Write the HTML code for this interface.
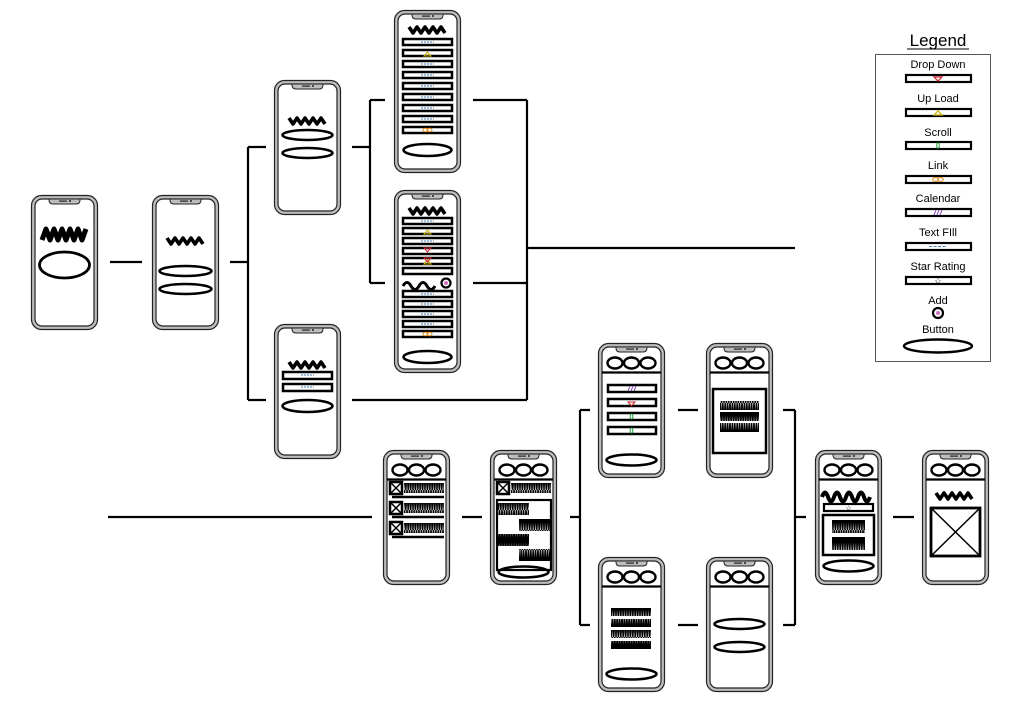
<!DOCTYPE html>
<html><head><meta charset="utf-8"><style>
html,body{margin:0;padding:0;background:#fff;}
svg{display:block;}
text{font-family:"Liberation Sans",sans-serif;}
</style></head><body>
<svg width="1024" height="724" viewBox="0 0 1024 724" xmlns="http://www.w3.org/2000/svg">
<defs>
<pattern id="zz" width="2.4" height="20" patternUnits="userSpaceOnUse">
<path d="M0 0 L1.2 20 L2.4 0" fill="none" stroke="#000" stroke-width="1.5"/>
</pattern>
<symbol id="f135" viewBox="0 0 67 135" width="67" height="135" overflow="visible">
<rect x="0.5" y="0.5" width="66" height="134" rx="10" fill="#bdbdbd" stroke="#222" stroke-width="1.2"/>
<rect x="4" y="4" width="59" height="127" rx="7" fill="#fff" stroke="#222" stroke-width="1.2"/>
<path d="M18 4 h31 v1 q0 4 -4 4 h-23 q-4 0 -4 -4z" fill="#bdbdbd" stroke="#222"/>
<rect x="28" y="5.5" width="8" height="1.2" fill="#222"/><circle cx="39" cy="6" r="1" fill="#222"/>
</symbol>
<symbol id="f163" viewBox="0 0 67 163" width="67" height="163" overflow="visible">
<rect x="0.5" y="0.5" width="66" height="162" rx="10" fill="#bdbdbd" stroke="#222" stroke-width="1.2"/>
<rect x="4" y="4" width="59" height="155" rx="7" fill="#fff" stroke="#222" stroke-width="1.2"/>
<path d="M18 4 h31 v1 q0 4 -4 4 h-23 q-4 0 -4 -4z" fill="#bdbdbd" stroke="#222"/>
<rect x="28" y="5.5" width="8" height="1.2" fill="#222"/><circle cx="39" cy="6" r="1" fill="#222"/>
</symbol>
<symbol id="f183" viewBox="0 0 67 183" width="67" height="183" overflow="visible">
<rect x="0.5" y="0.5" width="66" height="182" rx="10" fill="#bdbdbd" stroke="#222" stroke-width="1.2"/>
<rect x="4" y="4" width="59" height="175" rx="7" fill="#fff" stroke="#222" stroke-width="1.2"/>
<path d="M18 4 h31 v1 q0 4 -4 4 h-23 q-4 0 -4 -4z" fill="#bdbdbd" stroke="#222"/>
<rect x="28" y="5.5" width="8" height="1.2" fill="#222"/><circle cx="39" cy="6" r="1" fill="#222"/>
</symbol>
<g id="hdr">
<ellipse cx="17" cy="20" rx="7.5" ry="5.5" fill="none" stroke="#000" stroke-width="2.4"/>
<ellipse cx="33.5" cy="20" rx="7.5" ry="5.5" fill="none" stroke="#000" stroke-width="2.4"/>
<ellipse cx="50" cy="20" rx="7.5" ry="5.5" fill="none" stroke="#000" stroke-width="2.4"/>
<line x1="4" y1="29.5" x2="63" y2="29.5" stroke="#000" stroke-width="2.2"/>
</g>
<g id="wv"><path d="M0 -3 L4 3 L8 -3 L12 3 L16 -3 L20 3 L24 -3 L28 3 L32 -3 L36 3" fill="none" stroke="#000" stroke-width="3.6" stroke-linejoin="round"/></g>
<g id="xb"><rect x="0" y="0" width="12" height="12" fill="#fff" stroke="#000" stroke-width="2.5"/><path d="M1 1 L11 11 M11 1 L1 11" stroke="#000" stroke-width="1.5"/></g>
</defs>

<g stroke="#000" stroke-width="2.2" fill="none">
<path d="M110 262 H142"/>
<path d="M230 262 H248 M248 147 V400 M248 147 H266 M248 400 H266"/>
<path d="M352 147 H370 M370 100 V283 M370 100 H385 M370 283 H385"/>
<path d="M473 100 H527 M473 283 H527 M352 400 H527 M527 100 V400 M527 248 H795"/>
<path d="M108 517 H372 M462 517 H482 M570 517 H580 M580 410 V625 M580 410 H590 M580 625 H590"/>
<path d="M678 410 H698 M678 625 H698 M783 410 H795 M783 625 H795 M795 410 V625 M795 517 H806 M893 517 H914"/>
</g>

<!-- P1 -->
<g transform="translate(31,195)"><use href="#f135"/>
<path d="M11 45 L15 34 L19 45 L23 34 L27 45 L31 34 L35 45 L39 34 L43 45 L47 34 L51 45 L55 34" fill="none" stroke="#000" stroke-width="5" stroke-linejoin="round"/>
<ellipse cx="33.5" cy="70" rx="25" ry="13" fill="none" stroke="#000" stroke-width="2.8"/></g>
<!-- P2 -->
<g transform="translate(152,195)"><use href="#f135"/>
<use href="#wv" transform="translate(15,46)"/>
<ellipse cx="33.5" cy="76" rx="26" ry="5" fill="none" stroke="#000" stroke-width="2.5"/>
<ellipse cx="33.5" cy="94" rx="26" ry="5" fill="none" stroke="#000" stroke-width="2.5"/></g>
<!-- P3 -->
<g transform="translate(274,80)"><use href="#f135"/>
<use href="#wv" transform="translate(15,41)"/>
<ellipse cx="33.5" cy="55" rx="25" ry="5" fill="none" stroke="#000" stroke-width="2.5"/>
<ellipse cx="33.5" cy="73" rx="25" ry="5" fill="none" stroke="#000" stroke-width="2.5"/></g>
<!-- P4 -->
<g transform="translate(394,10)"><use href="#f163"/>
<use href="#wv" transform="translate(15,20)"/>
<g fill="none" stroke="#000" stroke-width="2.5">
<rect x="9" y="29" width="49" height="6"/><rect x="9" y="40" width="49" height="6"/>
<rect x="9" y="51" width="49" height="6"/><rect x="9" y="62" width="49" height="6"/>
<rect x="9" y="73" width="49" height="6"/><rect x="9" y="84" width="49" height="6"/>
<rect x="9" y="95" width="49" height="6"/><rect x="9" y="106" width="49" height="6"/>
<rect x="9" y="117" width="49" height="6"/>
<ellipse cx="33.5" cy="140" rx="24" ry="6"/></g>
<g stroke="#4a7cc0" stroke-width="1" stroke-dasharray="2 1"><path d="M27 32 h13 M27 54 h13 M27 65 h13 M27 76 h13 M27 87 h13 M27 98 h13 M27 109 h13"/></g>
<path d="M30 46 l3.5 -4 l3.5 4z" fill="none" stroke="#c8b400"/>
<ellipse cx="31.5" cy="120" rx="2.5" ry="1.8" fill="none" stroke="#e08a1e"/><ellipse cx="35.5" cy="120" rx="2.5" ry="1.8" fill="none" stroke="#e08a1e"/>
</g>
<!-- P5 -->
<g transform="translate(394,190)"><use href="#f183"/>
<use href="#wv" transform="translate(15,21)"/>
<g fill="none" stroke="#000" stroke-width="2.5">
<rect x="9" y="28" width="49" height="6"/><rect x="9" y="38" width="49" height="6"/>
<rect x="9" y="48" width="49" height="6"/><rect x="9" y="58" width="49" height="6"/>
<rect x="9" y="68" width="49" height="6"/><rect x="9" y="78" width="49" height="6"/>
<rect x="9" y="101" width="49" height="6"/><rect x="9" y="111" width="49" height="6"/>
<rect x="9" y="121" width="49" height="6"/><rect x="9" y="131" width="49" height="6"/>
<rect x="9" y="141" width="49" height="6"/>
<ellipse cx="33.5" cy="167" rx="24" ry="6"/>
<path d="M9 96 q4 -7 8 0 t8 0 t8 0 t8 0" stroke-width="3"/>
<circle cx="52" cy="93" r="4.5" stroke-width="2.2"/></g>
<circle cx="52" cy="93" r="2" fill="#d070c0"/>
<g stroke="#4a7cc0" stroke-width="1" stroke-dasharray="2 1"><path d="M27 31 h13 M27 51 h13 M27 104 h13 M27 114 h13 M27 124 h13 M27 134 h13"/></g>
<path d="M30 44 l3.5 -4 l3.5 4z M30 74 l3.5 -4 l3.5 4z" fill="none" stroke="#c8b400"/>
<path d="M30 58 l3.5 4 l3.5 -4z M30 68 l3.5 4 l3.5 -4z" fill="none" stroke="#d02030"/>
<ellipse cx="31.5" cy="144" rx="2.5" ry="1.8" fill="none" stroke="#e08a1e"/><ellipse cx="35.5" cy="144" rx="2.5" ry="1.8" fill="none" stroke="#e08a1e"/>
</g>
<!-- P6 -->
<g transform="translate(274,324)"><use href="#f135"/>
<use href="#wv" transform="translate(15,41)"/>
<g fill="none" stroke="#000" stroke-width="2.5"><rect x="9" y="48" width="49" height="7"/><rect x="9" y="60" width="49" height="7"/>
<ellipse cx="33.5" cy="82" rx="25" ry="6"/></g>
<g stroke="#4a7cc0" stroke-width="1" stroke-dasharray="2 1"><path d="M27 51 h13 M27 63 h13"/></g></g>
<!-- P7 -->
<g transform="translate(383,450)"><use href="#f135"/><use href="#hdr"/>
<use href="#xb" transform="translate(7,32)"/><rect x="21" y="33" width="40" height="10" fill="url(#zz)"/><line x1="9" y1="47" x2="61" y2="47" stroke="#000" stroke-width="2.5"/>
<use href="#xb" transform="translate(7,52)"/><rect x="21" y="53" width="40" height="10" fill="url(#zz)"/><line x1="9" y1="67" x2="61" y2="67" stroke="#000" stroke-width="2.5"/>
<use href="#xb" transform="translate(7,72)"/><rect x="21" y="73" width="40" height="10" fill="url(#zz)"/><line x1="9" y1="87" x2="61" y2="87" stroke="#000" stroke-width="2.5"/>
</g>
<!-- P8 -->
<g transform="translate(490,450)"><use href="#f135"/><use href="#hdr"/>
<use href="#xb" transform="translate(7,32)"/><rect x="21" y="33" width="40" height="10" fill="url(#zz)"/>
<rect x="7" y="50" width="54" height="70" fill="none" stroke="#000" stroke-width="2.2"/>
<rect x="8" y="53" width="31" height="12" fill="url(#zz)"/><rect x="29" y="69" width="31" height="12" fill="url(#zz)"/>
<rect x="8" y="84" width="31" height="12" fill="url(#zz)"/><rect x="29" y="99" width="31" height="12" fill="url(#zz)"/>
<ellipse cx="33.5" cy="122" rx="25" ry="5.5" fill="none" stroke="#000" stroke-width="2.5"/></g>
<!-- P9 -->
<g transform="translate(598,343)"><use href="#f135"/><use href="#hdr"/>
<g fill="none" stroke="#000" stroke-width="2.5"><rect x="10" y="42" width="48" height="7"/><rect x="10" y="56" width="48" height="7"/>
<rect x="10" y="70" width="48" height="7"/><rect x="10" y="84" width="48" height="7"/>
<ellipse cx="33.5" cy="117" rx="25" ry="5.5"/></g>
<path d="M30 48 l2 -5 M33 48 l2 -5 M36 48 l2 -5" stroke="#8040c0" stroke-width="1"/>
<path d="M30 59 l3.5 4 l3.5 -4z" fill="none" stroke="#d02030"/>
<ellipse cx="33.5" cy="73.5" rx="1.3" ry="2.5" fill="none" stroke="#20a040"/><ellipse cx="33.5" cy="87.5" rx="1.3" ry="2.5" fill="none" stroke="#20a040"/></g>
<!-- P10 -->
<g transform="translate(706,343)"><use href="#f135"/><use href="#hdr"/>
<rect x="7" y="46" width="53" height="64" fill="none" stroke="#000" stroke-width="2.5"/>
<rect x="14" y="58" width="39" height="9" fill="url(#zz)"/><rect x="14" y="69" width="39" height="9" fill="url(#zz)"/><rect x="14" y="80" width="39" height="9" fill="url(#zz)"/></g>
<!-- P11 -->
<g transform="translate(598,557)"><use href="#f135"/><use href="#hdr"/>
<rect x="13" y="51" width="40" height="8" fill="url(#zz)"/><rect x="13" y="62" width="40" height="8" fill="url(#zz)"/>
<rect x="13" y="73" width="40" height="8" fill="url(#zz)"/><rect x="13" y="84" width="40" height="8" fill="url(#zz)"/>
<ellipse cx="33.5" cy="117" rx="25" ry="5.5" fill="none" stroke="#000" stroke-width="2.5"/></g>
<!-- P12 -->
<g transform="translate(706,557)"><use href="#f135"/><use href="#hdr"/>
<ellipse cx="33.5" cy="67" rx="25" ry="5" fill="none" stroke="#000" stroke-width="2.5"/>
<ellipse cx="33.5" cy="90" rx="25" ry="5" fill="none" stroke="#000" stroke-width="2.5"/></g>
<!-- P13 -->
<g transform="translate(815,450)"><use href="#f135"/><use href="#hdr"/>
<path d="M7 47 q3 -9 6 0 t6 0 t6 0 t6 0 t6 0 t6 0 t6 0 t6 0" fill="none" stroke="#000" stroke-width="4"/>
<rect x="9" y="54" width="49" height="7" fill="none" stroke="#000" stroke-width="2.2"/>
<text x="33.5" y="60.5" font-size="7" text-anchor="middle">☆</text>
<rect x="8" y="65" width="51" height="40" fill="none" stroke="#000" stroke-width="2.5"/>
<rect x="17" y="70" width="33" height="13" fill="url(#zz)"/><rect x="17" y="87" width="33" height="13" fill="url(#zz)"/>
<ellipse cx="33.5" cy="116" rx="25" ry="5.5" fill="none" stroke="#000" stroke-width="2.5"/></g>
<!-- P14 -->
<g transform="translate(922,450)"><use href="#f135"/><use href="#hdr"/>
<use href="#wv" transform="translate(14,46)"/>
<rect x="9" y="58" width="49" height="48" fill="none" stroke="#000" stroke-width="2.8"/>
<path d="M9 58 L58 106 M58 58 L9 106" stroke="#000" stroke-width="1.5"/></g>

<!-- Legend -->
<text x="938" y="46" font-size="17" text-anchor="middle">Legend</text>
<line x1="907" y1="49" x2="969" y2="49" stroke="#000" stroke-width="1"/>
<rect x="875.5" y="54.5" width="115" height="307" fill="none" stroke="#555" stroke-width="1"/>
<g font-size="11" text-anchor="middle">
<text x="938" y="68">Drop Down</text>
<text x="938" y="102">Up Load</text>
<text x="938" y="136">Scroll</text>
<text x="938" y="169">Link</text>
<text x="938" y="202">Calendar</text>
<text x="938" y="236">Text FIll</text>
<text x="938" y="270">Star Rating</text>
<text x="938" y="304">Add</text>
<text x="938" y="333">Button</text>
</g>
<g fill="none" stroke="#000" stroke-width="2.2">
<rect x="906" y="75" width="65" height="7"/><rect x="906" y="109" width="65" height="7"/>
<rect x="906" y="142" width="65" height="7"/><rect x="906" y="176" width="65" height="7"/>
<rect x="906" y="209" width="65" height="7"/><rect x="906" y="243" width="65" height="7"/>
<rect x="906" y="277" width="65" height="7"/>
<circle cx="938" cy="313" r="5"/>
<ellipse cx="938" cy="346" rx="34" ry="6.5" stroke-width="2.4"/></g>
<path d="M934 77 l4 4 l4 -4z" fill="none" stroke="#d02030" stroke-width="1.2"/>
<path d="M934 115 l4 -4 l4 4z" fill="none" stroke="#c8b400" stroke-width="1.2"/>
<ellipse cx="938" cy="145.5" rx="1.3" ry="2.6" fill="none" stroke="#20a040" stroke-width="1"/>
<ellipse cx="935.5" cy="179.5" rx="2.8" ry="2" fill="none" stroke="#e08a1e"/><ellipse cx="940.5" cy="179.5" rx="2.8" ry="2" fill="none" stroke="#e08a1e"/>
<path d="M934 215 l2 -5 M937 215 l2 -5 M940 215 l2 -5" stroke="#8040c0" stroke-width="1"/>
<path d="M929 246.5 h18" stroke="#4a7cc0" stroke-width="1" stroke-dasharray="3 1.5"/>
<text x="938" y="283.5" font-size="8" text-anchor="middle">☆</text>
<circle cx="938" cy="313" r="2" fill="#d070c0"/>
</svg>
</body></html>
